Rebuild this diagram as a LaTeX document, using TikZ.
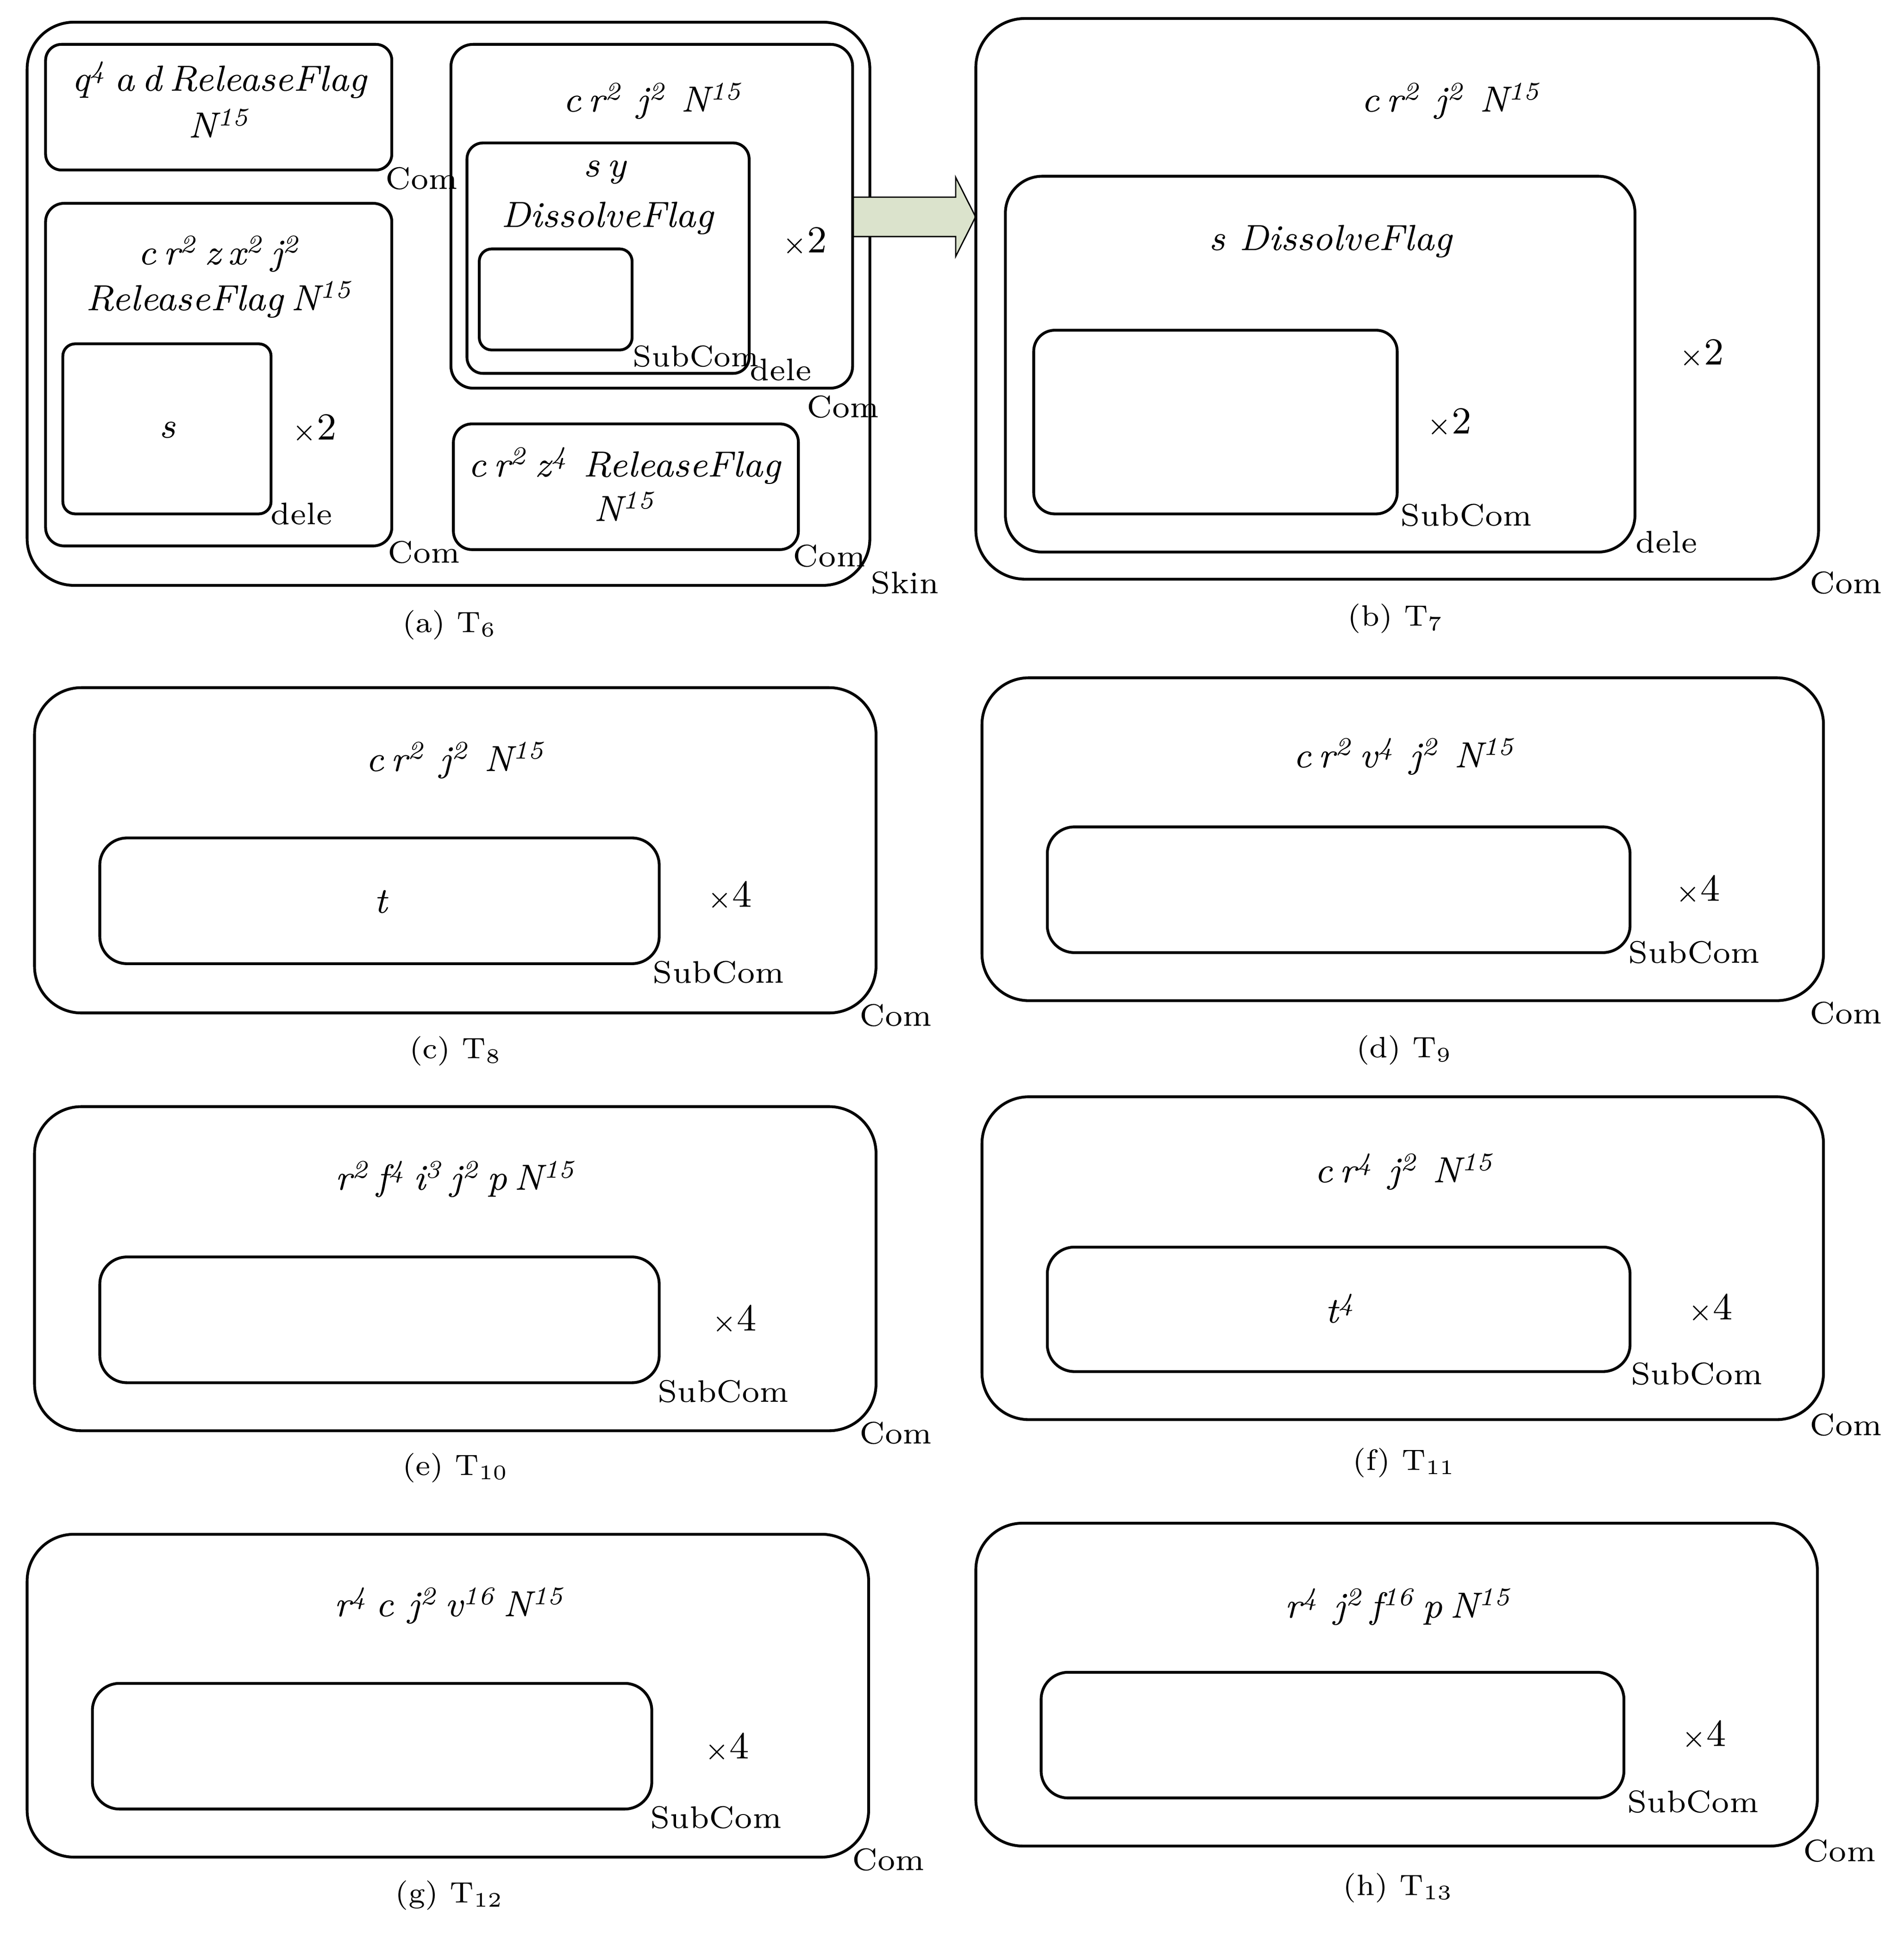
\documentclass[tikz,border=0pt]{standalone}

\definecolor{arrowgreen}{HTML}{DBE3CC}
\newcommand{\ntimes}[1]{$\scriptstyle\times$#1}
\newcommand{\pw}[1]{\textsuperscript{#1}}
\newcommand{\tightsp}{\spaceskip=0.2em plus 0.05em\relax}

\begin{document}
\begin{tikzpicture}[x=0.01cm, y=-0.01cm,
    membrane/.style={draw, line width=0.65pt, rounded corners=#1},
    membrane/.default=0.38cm,
    objects/.style={inner sep=0pt, font={\fontsize{8.4}{10}\selectfont\itshape\tightsp}},
    memname/.style={inner sep=0pt, anchor=west, font=\fontsize{7.2}{9}\selectfont},
    copies/.style={inner sep=0pt, font=\fontsize{8.8}{10}\selectfont},
    panel/.style={inner sep=0pt, font=\fontsize{6.8}{9}\selectfont}]
    \useasboundingbox (0,0) rectangle (1545,1569.4);

    % (a) T6
    \draw[membrane] (22,18) rectangle (706,475);
    \draw[membrane=0.13cm] (37,36) rectangle (318,138);
    \draw[membrane=0.15cm] (37,165) rectangle (318,443);
    \draw[membrane=0.1cm] (51,279) rectangle (220,417);
    \draw[membrane=0.18cm] (366,36) rectangle (692,315);
    \draw[membrane=0.13cm] (379,116) rectangle (608,303);
    \draw[membrane=0.1cm] (389,202) rectangle (513,284);
    \draw[membrane=0.15cm] (368,344) rectangle (648,446);
    \node[objects] (a1a) at (178,65) {q\pw{4} a d ReleaseFlag};
    \node[objects] (a1b) at (178,100) {N\pw{15}};
    \node[objects] (a2a) at (178,206) {c r\pw{2} z x\pw{2} j\pw{2}};
    \node[objects] (a2b) at (178,243) {ReleaseFlag N\pw{15}};
    \node[objects] (a2s) at (136,349) {s};
    \node[copies] (a2x) at (255,348) {\ntimes{2}};
    \node[objects] (a3a) at (530,82) {c r\pw{2}~ j\pw{2}~ N\pw{15}};
    \node[objects] (a3b) at (491,140) {s y};
    \node[objects] (a3c) at (493,177) {DissolveFlag};
    \node[copies] (a3x) at (653,196) {\ntimes{2}};
    \node[objects] (a4a) at (507,378) {c r\pw{2} z\pw{4}~ ReleaseFlag};
    \node[objects] (a4b) at (507,411) {N\pw{15}};
    \node[memname] (a1n) at (312,145) {Com};
    \node[memname] (a2n) at (314,448) {Com};
    \node[memname] (a2d) at (219,417) {dele};
    \node[memname] (a3n) at (654,330) {Com};
    \node[memname] (a3d) at (608,300) {dele};
    \node[memname, font=\fontsize{6.9}{9}\selectfont] (a3s) at (513,289) {SubCom};
    \node[memname] (a4n) at (643,451) {Com};
    \node[memname] (askin) at (706,473) {Skin};
    \node[panel] (capa) at (365,507) {(a) T\textsubscript{6}};

    % arrow from T6 to T7
    \draw[line width=0.3pt, fill=arrowgreen] (692.6,160) -- (775.7,160) -- (775.7,144)
        -- (791.8,176) -- (775.7,208) -- (775.7,192) -- (692.6,192) -- cycle;

    % (b) T7
    \draw[membrane=0.4cm] (792,15) rectangle (1476,470);
    \draw[membrane=0.3cm] (816,143) rectangle (1327,448);
    \draw[membrane=0.17cm] (839,268) rectangle (1134,417);
    \node[objects] (b1) at (1178,82) {c r\pw{2}~ j\pw{2}~ N\pw{15}};
    \node[objects] (b2) at (1080,196) {s~ DissolveFlag};
    \node[copies] (b2x) at (1381,287) {\ntimes{2}};
    \node[copies] (b3x) at (1176,343) {\ntimes{2}};
    \node[memname] (b3s) at (1136,418) {SubCom};
    \node[memname] (b2d) at (1327,440) {dele};
    \node[memname] (b1n) at (1468,473) {Com};
    \node[panel] (capb) at (1133,502) {(b) T\textsubscript{7}};

    % (c) T8
    \draw[membrane] (28,558) rectangle (711,822);
    \draw[membrane=0.22cm] (81,680) rectangle (535,782);
    \node[objects] (c1) at (370,617) {c r\pw{2}~ j\pw{2}~ N\pw{15}};
    \node[objects] (c2) at (309,732) {t};
    \node[copies] (cx) at (592,727) {\ntimes{4}};
    \node[memname] (cs) at (529,789) {SubCom};
    \node[memname] (cn) at (697,824) {Com};
    \node[panel] (capc) at (370,853) {(c) T\textsubscript{8}};

    % (d) T9
    \draw[membrane] (797,550) rectangle (1480,812);
    \draw[membrane=0.22cm] (850,671) rectangle (1323,773);
    \node[objects] (d1) at (1140,614) {c r\pw{2} v\pw{4}~ j\pw{2}~ N\pw{15}};
    \node[copies] (dx) at (1378,722) {\ntimes{4}};
    \node[memname] (ds) at (1321,773) {SubCom};
    \node[memname] (dn) at (1468,822) {Com};
    \node[panel] (capd) at (1140,852) {(d) T\textsubscript{9}};

    % (e) T10
    \draw[membrane] (28,898) rectangle (711,1161);
    \draw[membrane=0.22cm] (81,1020) rectangle (535,1122);
    \node[objects] (e1) at (370,957) {r\pw{2} f\pw{4} i\pw{3} j\pw{2} p N\pw{15}};
    \node[copies] (ex) at (596,1071) {\ntimes{4}};
    \node[memname] (es) at (533,1129) {SubCom};
    \node[memname] (en) at (697,1163) {Com};
    \node[panel] (cape) at (370,1191) {(e) T\textsubscript{10}};

    % (f) T11
    \draw[membrane] (797,890) rectangle (1480,1152);
    \draw[membrane=0.22cm] (850,1012) rectangle (1323,1113);
    \node[objects] (f1) at (1140,951) {c r\pw{4}~ j\pw{2}~ N\pw{15}};
    \node[objects] (f2) at (1088,1062) {t\pw{4}};
    \node[copies] (fx) at (1388,1062) {\ntimes{4}};
    \node[memname] (fs) at (1323,1115) {SubCom};
    \node[memname] (fn) at (1468,1156) {Com};
    \node[panel] (capf) at (1140,1187) {(f) T\textsubscript{11}};

    % (g) T12
    \draw[membrane] (22,1245) rectangle (705,1507);
    \draw[membrane=0.22cm] (75,1366) rectangle (529,1468);
    \node[objects] (g1) at (365,1303) {r\pw{4} c~ j\pw{2} v\pw{16} N\pw{15}};
    \node[copies] (gx) at (590,1418) {\ntimes{4}};
    \node[memname] (gs) at (527,1475) {SubCom};
    \node[memname] (gn) at (691,1509) {Com};
    \node[panel] (capg) at (365,1538) {(g) T\textsubscript{12}};

    % (h) T13
    \draw[membrane] (792,1236) rectangle (1475,1498);
    \draw[membrane=0.22cm] (845,1357) rectangle (1318,1459);
    \node[objects] (h1) at (1135,1304) {r\pw{4}~ j\pw{2} f\pw{16} p N\pw{15}};
    \node[copies] (hx) at (1383,1408) {\ntimes{4}};
    \node[memname] (hs) at (1320,1462) {SubCom};
    \node[memname] (hn) at (1463,1502) {Com};
    \node[panel] (caph) at (1135,1532) {(h) T\textsubscript{13}};
\end{tikzpicture}
\end{document}
